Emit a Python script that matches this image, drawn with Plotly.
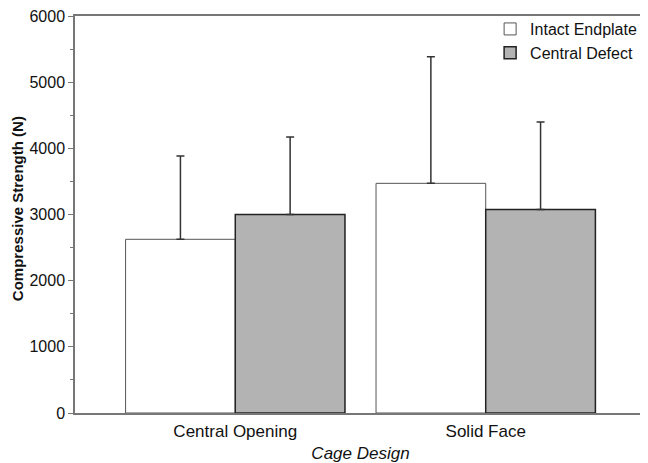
import plotly.graph_objects as go

categories = ["Central Opening", "Solid Face"]
intact_mean = [2625, 3471]
intact_sd = [1259, 1913]
defect_mean = [3000, 3075]
defect_sd = [1170, 1323]
y_ticks = [0, 1000, 2000, 3000, 4000, 5000, 6000]

FONT = "Arial, Liberation Sans, Helvetica, sans-serif"

fig = go.Figure()
fig.add_trace(go.Bar(
    name="Intact Endplate", x=categories, y=intact_mean,
    marker=dict(color="white", line=dict(color="#555555", width=1)),
    error_y=dict(type="data", array=intact_sd, arrayminus=[0, 0], symmetric=False,
                 color="#333333", thickness=1.5, width=4),
))
fig.add_trace(go.Bar(
    name="Central Defect", x=categories, y=defect_mean,
    marker=dict(color="#b3b3b3", line=dict(color="#222222", width=1.5)),
    error_y=dict(type="data", array=defect_sd, arrayminus=[0, 0], symmetric=False,
                 color="#333333", thickness=1.5, width=4),
))

fig.update_layout(
    width=640, height=455,
    margin=dict(l=67, r=2, t=8, b=50, autoexpand=False),
    paper_bgcolor="white", plot_bgcolor="white",
    barmode="group", bargap=0.124, bargroupgap=0,
    font=dict(family=FONT, size=16, color="#111111"),
    legend=dict(x=0.727, y=1.01, xanchor="left", yanchor="top",
                bgcolor="rgba(0,0,0,0)", font=dict(size=16, color="#111111"),
                tracegroupgap=0, itemwidth=30),
    xaxis=dict(range=[-0.64, 1.64], showline=True, linecolor="#777777", linewidth=1.5,
               mirror=True, ticks="", showgrid=False, zeroline=False,
               tickfont=dict(size=17, color="#111111"), ticklabelstandoff=2,
               title=dict(text="<i>Cage Design</i>", font=dict(size=17, color="#111111"), standoff=9)),
    yaxis=dict(range=[0, 6000], tickvals=y_ticks, showline=True, linecolor="#777777",
               linewidth=1.5, mirror=True, ticks="outside", ticklen=5, tickcolor="#777777",
               ticklabeloverflow="allow",
               minor=dict(dtick=500, ticks="outside", ticklen=3, tickcolor="#777777"),
               showgrid=False, zeroline=False, tickfont=dict(size=16, color="#111111")),
    annotations=[dict(text="<b>Compressive Strength (N)</b>", xref="paper", yref="paper",
                      x=-0.1016, y=0.516, xanchor="center", yanchor="middle", textangle=-90,
                      showarrow=False, font=dict(size=15, color="#111111"))],
)

fig.write_html("out.html")
